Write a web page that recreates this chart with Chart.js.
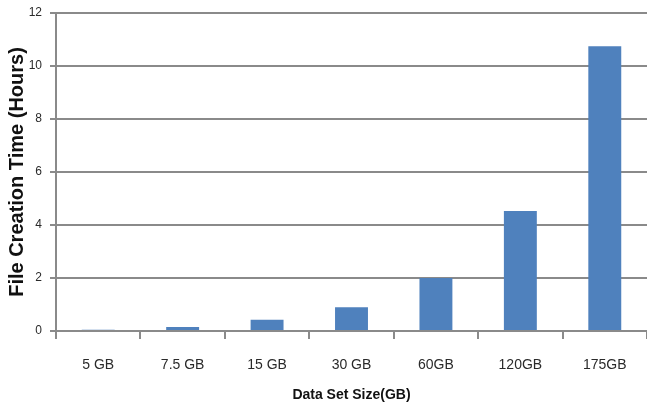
<!DOCTYPE html>
<html>
<head>
<meta charset="utf-8">
<script src="https://cdn.jsdelivr.net/npm/chart.js@4/dist/chart.umd.min.js"></script>
<style>
  html, body { margin: 0; padding: 0; background: #ffffff; }
  #wrap { position: relative; width: 647px; height: 407px; }
</style>
</head>
<body>
<div id="wrap"><canvas id="chart" width="647" height="407"></canvas></div>
<script>
// Data set sizes and the time needed to create the files (hours)
const categories = ['5 GB', '7.5 GB', '15 GB', '30 GB', '60GB', '120GB', '175GB'];
const creationHours = [0.05, 0.15, 0.42, 0.9, 2.0, 4.53, 10.75];
const yTicks = [0, 2, 4, 6, 8, 10, 12];

const axisGrey = '#8a8a8a';
const textColor = '#2a2a2a';
const fontFamily = '"Liberation Sans", Arial, sans-serif';

new Chart(document.getElementById('chart'), {
  type: 'bar',
  data: {
    labels: categories,
    datasets: [{
      data: creationHours,
      backgroundColor: '#4f81bd',
      borderWidth: 0,
      categoryPercentage: 1.0,
      barPercentage: 0.39
    }]
  },
  options: {
    responsive: false,
    animation: false,
    events: [],
    layout: { padding: { top: 13, right: 0, bottom: 0, left: 0 } },
    plugins: {
      legend: { display: false },
      tooltip: { enabled: false }
    },
    scales: {
      x: {
        grid: {
          display: true,
          offset: true,
          drawOnChartArea: false,
          drawTicks: true,
          tickLength: 8,
          color: axisGrey,
          lineWidth: 2
        },
        border: { display: true, color: axisGrey, width: 2 },
        ticks: {
          color: textColor,
          font: { family: fontFamily, size: 14 },
          padding: 18,
          maxRotation: 0
        },
        title: {
          display: true,
          text: 'Data Set Size(GB)',
          color: '#111111',
          font: { family: fontFamily, size: 14, weight: 'bold' },
          padding: { top: 2, bottom: 3 }
        },
        afterFit: (scale) => { scale.height = 76; }
      },
      y: {
        min: 0,
        max: 12,
        afterBuildTicks: (scale) => { scale.ticks = yTicks.map(v => ({ value: v })); },
        grid: {
          color: axisGrey,
          lineWidth: 2,
          drawTicks: true,
          tickLength: 6
        },
        border: { display: true, color: axisGrey, width: 2 },
        ticks: {
          color: textColor,
          font: { family: fontFamily, size: 12 },
          padding: 8
        },
        title: {
          display: true,
          text: 'File Creation Time (Hours)',
          color: '#111111',
          font: { family: fontFamily, size: 20, weight: 'bold' },
          padding: { top: 5, bottom: 0 }
        },
        afterFit: (scale) => {
          scale.width = 56;
          scale.paddingTop = 0;
          scale.paddingBottom = 0;
        }
      }
    }
  }
});
</script>
</body>
</html>
